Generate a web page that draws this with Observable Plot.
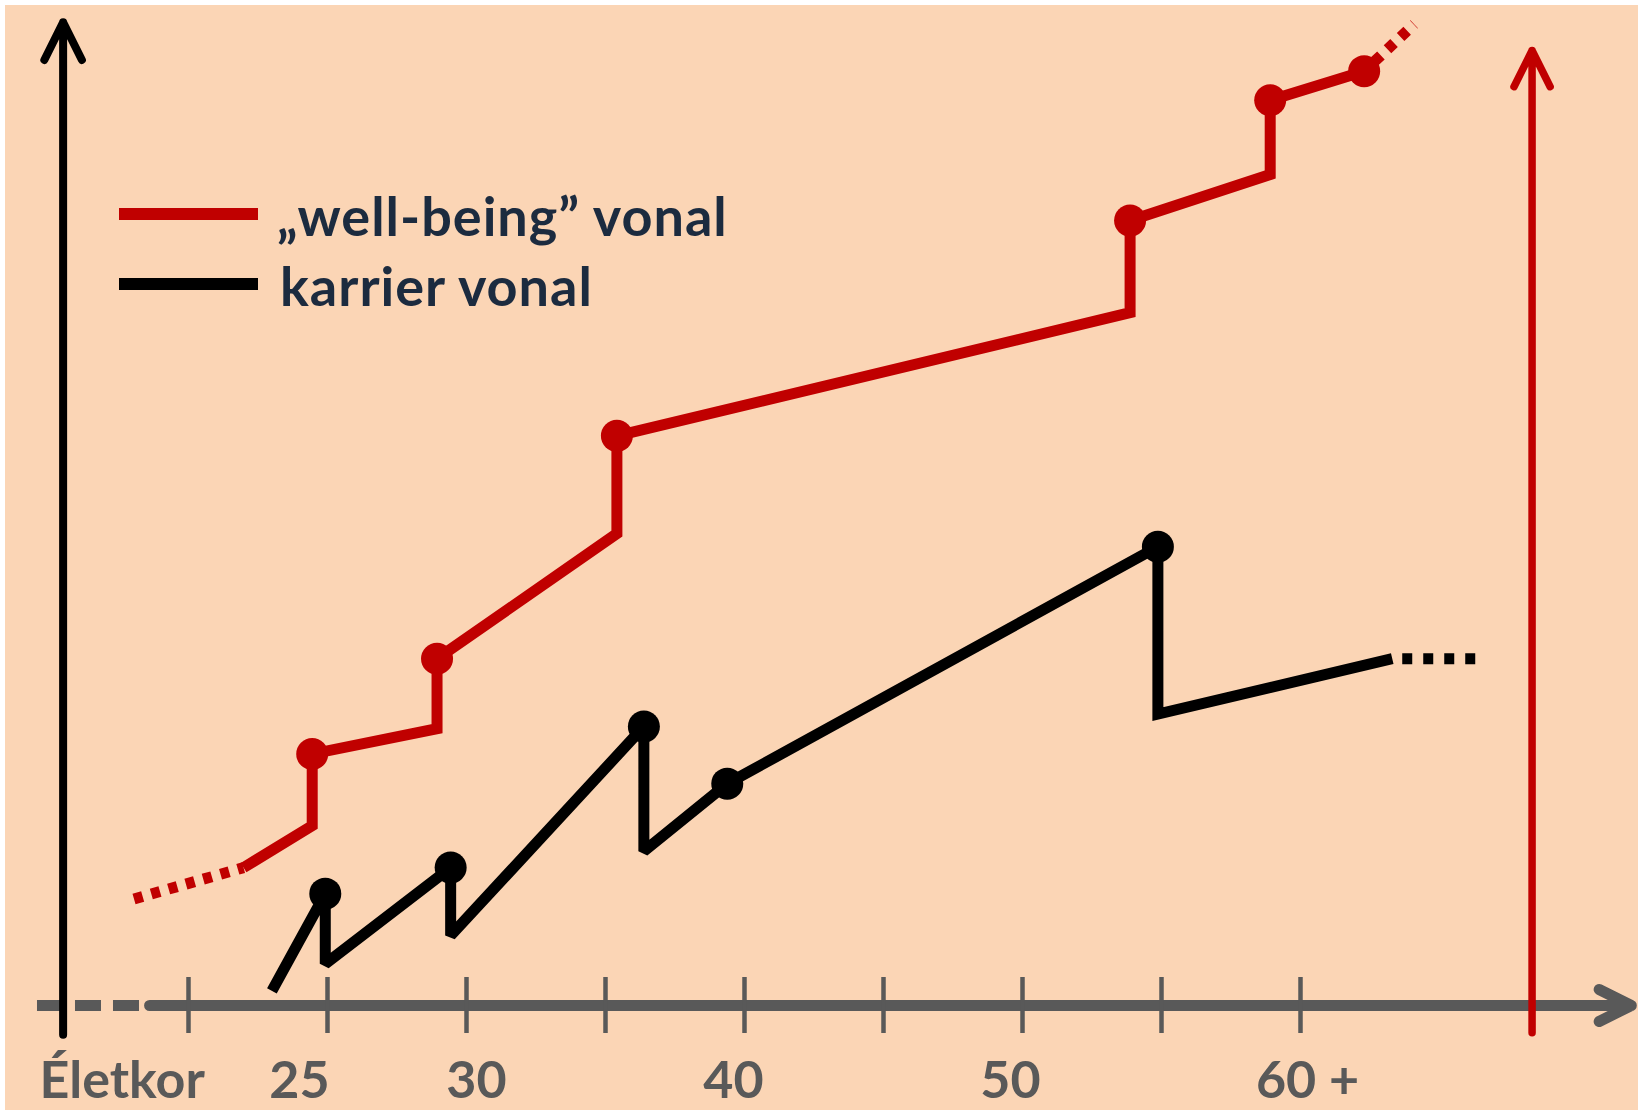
<!DOCTYPE html>
<html>
<head>
<meta charset="utf-8">
<script src="https://cdn.jsdelivr.net/npm/d3@7"></script>
<script src="https://cdn.jsdelivr.net/npm/@observablehq/plot@0.6"></script>
<style>
  html, body { margin: 0; padding: 0; background: #ffffff; }
  #wrap { position: relative; width: 1638px; height: 1110px; background: #FBD5B5; overflow: hidden; }
  #wrap svg { position: absolute; left: 0; top: 0; }
  .edge-top { position: absolute; left: 0; top: 0; width: 1638px; height: 5px; background: #fff; }
  .edge-left { position: absolute; left: 0; top: 0; width: 5px; height: 1110px; background: #fff; }
  .leg-bar { position: absolute; left: 119px; width: 139px; height: 12px; }
  .leg-text { position: absolute; font-family: Lato, "Open Sans", sans-serif; font-weight: 700;
              font-size: 54px; line-height: 54px; letter-spacing: 1px; color: #1c2b3f; white-space: nowrap; }
</style>
</head>
<body>
<div id="wrap"></div>
<script>
// ---- data (age in years, level in arbitrary units) ----
const wellAges   = [21.98, 24.45, 24.45, 28.94, 28.94, 35.41, 35.41, 53.87, 53.87, 58.91, 58.91, 62.29];
const wellLevels = [14.67, 19.13, 26.76, 29.44, 36.89, 50.2, 60.6, 73.7, 83.5, 88.4, 96.3, 99.4];
const wellDotAges   = [24.45, 28.94, 35.41, 53.87, 58.91, 62.29];
const wellDotLevels = [26.76, 36.89, 60.6, 83.5, 96.3, 99.4];
const wellLeadAges = [18.04, 21.98];
const wellLeadLevels = [11.33, 14.67];
const wellTailAges = [62.29, 64.09];
const wellTailLevels = [99.4, 104.4];

const careerAges   = [23.0, 24.92, 24.92, 29.43, 29.43, 36.38, 36.38, 39.38, 54.87, 54.87, 63.3];
const careerLevels = [1.56, 11.9, 4.44, 14.67, 7.44, 29.67, 16.4, 23.6, 48.8, 31.0, 36.9];
const careerDotAges   = [24.92, 29.43, 36.38, 39.38, 54.87];
const careerDotLevels = [11.9, 14.67, 29.67, 23.6, 48.8];
const careerTailAges = [63.3, 66.31];
const careerTailLevels = [36.9, 36.9];

const tickAges = [20, 25, 30, 35, 40, 45, 50, 55, 60];
const labelAges = [25, 30, 40, 50, 60];
const tickLabels = ["25", "30", "40", "50", "60 +"];
const axisTitle = "Életkor";
const legendLabels = ["\u201Ewell-being\u201D vonal", "karrier vonal"];
const legendColors = ["#C00000", "#000000"];

// ---- layout constants ----
const RED = "#C00000", GRAY = "#595959";
const leftAxisAge = 15.49, rightAxisAge = 68.33;
const labelNudge = [-28, 10, -11, -12, 7];
const LW = 11;

const pts = (xs, ys) => xs.map((x, i) => ({x, y: ys[i]}));

const labelMarks = tickLabels.map((t, i) =>
  Plot.text([labelAges[i]], {x: d => d, y: -8.1, text: () => t, dx: labelNudge[i],
    fill: GRAY, fontFamily: "Lato, sans-serif", fontWeight: 700, fontSize: 52, textAnchor: "middle", lineAnchor: "middle"}));

const chart = Plot.plot({
  width: 1638, height: 1110, margin: 0,
  x: {domain: [20, 60], range: [188, 1300], axis: null},
  y: {domain: [0, 100], range: [1005, 65], axis: null},
  style: {background: "transparent", overflow: "visible"},
  marks: [
    // x axis: dashed lead-in + solid arrow
    Plot.line(pts([14.55, 18.24], [0, 0]), {x: "x", y: "y", stroke: GRAY, strokeWidth: 11, strokeDasharray: "26 12", strokeLinecap: "butt"}),
    Plot.arrow([0], {x1: 18.6, x2: 71.9, y1: 0, y2: 0, stroke: GRAY, strokeWidth: 11, headLength: 4.9, headAngle: 53}),
    Plot.ruleX(tickAges, {x: d => d, y1: -2.98, y2: 2.98, stroke: GRAY, strokeWidth: 4.5}),
    // vertical axes
    Plot.arrow([0], {x1: leftAxisAge, x2: leftAxisAge, y1: -3.1, y2: 104.6, stroke: "#000", strokeWidth: 8, headLength: 7.9, headAngle: 53}),
    Plot.arrow([0], {x1: rightAxisAge, x2: rightAxisAge, y1: -2.9, y2: 101.6, stroke: RED, strokeWidth: 7.5, headLength: 8.1, headAngle: 53}),
    // labels
    Plot.text([axisTitle], {x: 14.64, y: -8.1, text: d => d, fill: GRAY, fontFamily: "Lato, sans-serif", fontWeight: 700, fontSize: 52, textAnchor: "start", lineAnchor: "middle"}),
    ...labelMarks,
    // well-being line
    Plot.line(pts(wellLeadAges, wellLeadLevels), {x: "x", y: "y", stroke: RED, strokeWidth: LW, strokeDasharray: "9 9", strokeLinecap: "butt"}),
    Plot.line(pts(wellTailAges, wellTailLevels), {x: "x", y: "y", stroke: RED, strokeWidth: LW, strokeDasharray: "9 9", strokeDashoffset: -14, strokeLinecap: "butt"}),
    Plot.line(pts(wellAges, wellLevels), {x: "x", y: "y", stroke: RED, strokeWidth: LW, strokeLinecap: "butt", strokeLinejoin: "miter", strokeMiterlimit: 2}),
    Plot.dot(pts(wellDotAges, wellDotLevels), {x: "x", y: "y", r: 16, fill: RED, stroke: "none"}),
    // career line
    Plot.line(pts(careerTailAges, careerTailLevels), {x: "x", y: "y", stroke: "#000", strokeWidth: LW, strokeDasharray: "10 11", strokeDashoffset: 11, strokeLinecap: "butt"}),
    Plot.line(pts(careerAges, careerLevels), {x: "x", y: "y", stroke: "#000", strokeWidth: LW, strokeLinecap: "butt", strokeLinejoin: "miter", strokeMiterlimit: 2}),
    Plot.dot(pts(careerDotAges, careerDotLevels), {x: "x", y: "y", r: 16, fill: "#000", stroke: "none"})
  ]
});

const wrap = document.getElementById("wrap");
wrap.appendChild(chart);

// legend overlay
const legTops = [208, 278], textTops = [189.1, 259.1], textLefts = [277, 280];
legendLabels.forEach((lab, i) => {
  const bar = document.createElement("div");
  bar.className = "leg-bar";
  bar.style.top = legTops[i] + "px";
  bar.style.background = legendColors[i];
  wrap.appendChild(bar);
  const t = document.createElement("div");
  t.className = "leg-text";
  t.style.top = textTops[i] + "px";
  t.style.left = textLefts[i] + "px";
  t.textContent = lab;
  wrap.appendChild(t);
});
["edge-top", "edge-left"].forEach(c => { const e = document.createElement("div"); e.className = c; wrap.appendChild(e); });
</script>
</body>
</html>
